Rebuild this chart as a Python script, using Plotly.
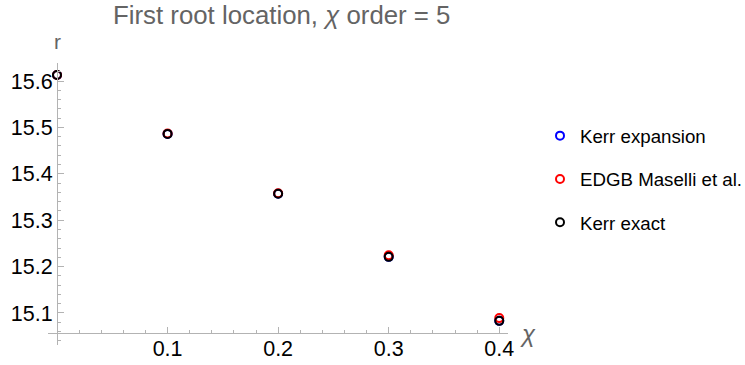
import plotly.graph_objects as go

# spin values and first-root radii
chi = [0.0, 0.1, 0.2, 0.3, 0.4]
r_kerr_expansion = [15.613, 15.486, 15.357, 15.221, 15.083]
r_edgb_maselli = [15.613, 15.487, 15.358, 15.2245, 15.089]
r_kerr_exact = [15.613, 15.486, 15.357, 15.221, 15.083]

series = [
    ("Kerr expansion", r_kerr_expansion, "#0000ff"),
    ("EDGB Maselli et al.", r_edgb_maselli, "#ff0000"),
    ("Kerr exact", r_kerr_exact, "#000000"),
]

x_ticks = [0.1, 0.2, 0.3, 0.4]
x_ticktext = ["0.1", "0.2", "0.3", "0.4"]
y_ticks = [15.1, 15.2, 15.3, 15.4, 15.5, 15.6]
y_ticktext = ["15.1", "15.2", "15.3", "15.4", "15.5", "15.6"]

W, H = 745, 365
L, R, T, B = 48, 237, 63, 20
pw, ph = W - L - R, H - T - B

x_range = [-0.00814, 0.4079]
y_range = [15.031, 15.6388]
x_origin, y_origin = 0.0, 15.0575


def px_x(v):
    return (v - x_range[0]) / (x_range[1] - x_range[0])


def px_y(v):
    return (v - y_range[0]) / (y_range[1] - y_range[0])


fig = go.Figure()
for i, (name, vals, col) in enumerate(series):
    fig.add_trace(go.Scatter(
        x=chi, y=vals, mode="markers", name=name, legendgroup=f"g{i}",
        marker=dict(symbol="circle-open", size=8, color=col,
                    line=dict(width=2, color=col)),
    ))

axis_col = "#b3b3b3"
font = "Liberation Sans, Arial, sans-serif"

fig.update_layout(
    width=W, height=H,
    margin=dict(l=L, r=R, t=T, b=B, autoexpand=False),
    paper_bgcolor="white", plot_bgcolor="white",
    font=dict(family=font, color="#000000"),
    showlegend=True,
    legend=dict(xref="container", yref="container",
                x=540 / W, y=1 - 117 / H, xanchor="left",
                yanchor="top", font=dict(size=18.7, color="#000000"),
                tracegroupgap=16, bgcolor="rgba(0,0,0,0)"),
    xaxis=dict(range=x_range, anchor="free", position=px_y(y_origin),
               automargin=False,
               showgrid=False, zeroline=False, showline=True,
               linecolor=axis_col, linewidth=1,
               tickmode="array", tickvals=x_ticks, ticktext=x_ticktext,
               ticks="inside", ticklen=6, tickcolor=axis_col,
               ticklabelstandoff=-4,
               tickfont=dict(size=21.5, color="#000000"),
               minor=dict(tick0=0, dtick=0.02, ticks="inside", ticklen=3,
                          tickcolor=axis_col, showgrid=False)),
    yaxis=dict(range=y_range, anchor="free", position=px_x(x_origin),
               automargin=False,
               showgrid=False, zeroline=False, showline=True,
               linecolor=axis_col, linewidth=1,
               tickmode="array", tickvals=y_ticks, ticktext=y_ticktext,
               ticks="inside", ticklen=6, tickcolor=axis_col,
               tickfont=dict(size=21.5, color="#000000"),
               minor=dict(tick0=15.0, dtick=0.02, ticks="inside", ticklen=3,
                          tickcolor=axis_col, showgrid=False)),
    annotations=[
        dict(text="First root location, <i>χ</i> order = 5",
             xref="paper", yref="paper", x=(281 - L) / pw, y=(H - B - 15.5) / ph,
             xanchor="center", yanchor="middle", showarrow=False,
             font=dict(size=25.8, color="#646464", family=font)),
        dict(text="r", xref="paper", yref="paper",
             x=(57 - L) / pw, y=(H - B - 42) / ph,
             xanchor="center", yanchor="middle", showarrow=False,
             font=dict(size=21, color="#646464", family=font)),
        dict(text="<i>χ</i>", xref="paper", yref="paper",
             x=(528 - L) / pw, y=(H - B - 333) / ph,
             xanchor="center", yanchor="middle", showarrow=False,
             font=dict(size=24, color="#646464", family=font)),
    ],
)

fig.write_html("out.html")
